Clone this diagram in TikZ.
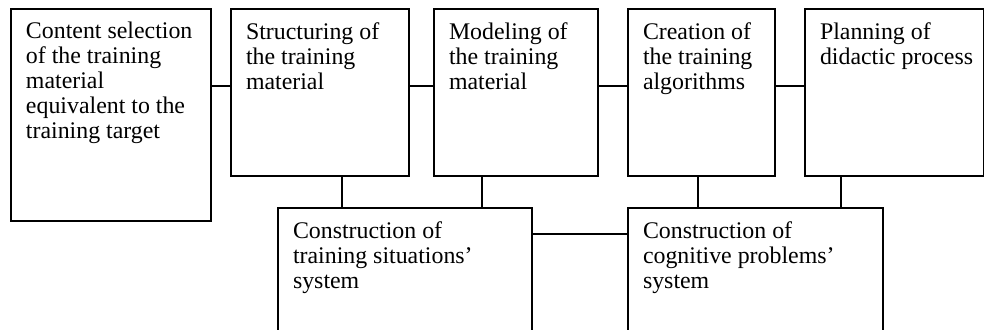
\documentclass[tikz,border=0pt]{standalone}
\usepackage{fontspec}
\setmainfont{Liberation Serif}

\tikzset{
  stage/.style={draw, line width=1.5pt, anchor=north west, inner xsep=11.25pt, inner ysep=10pt,
    font=\fontsize{17.9}{18.75}\selectfont},
  link/.style={line width=1.5pt}
}
\newcommand{\stagetext}[3]{\parbox[t][#2][t]{#1}{\raggedright #3}}

\begin{document}
\begin{tikzpicture}[x=0.75pt,y=-0.75pt]
\useasboundingbox (0,0) rectangle (984,329);
\clip (0,0) rectangle (984,329);
% upper row
\node[stage] (sel) at (10,8) {\stagetext{127.5pt}{139pt}{Content selection\\of the training\\material\\equivalent to the\\training target}};
\node[stage] (str) at (230,8) {\stagetext{111pt}{105.25pt}{Structuring of\\the training\\material}};
\node[stage] (mod) at (433,8) {\stagetext{100.5pt}{105.25pt}{Modeling of\\the training\\material}};
\node[stage] (cre) at (627,8) {\stagetext{87.75pt}{105.25pt}{Creation of\\the training\\algorithms}};
\node[stage] (pla) at (804,8) {\stagetext{111.75pt}{105.25pt}{Planning of\\\mbox{didactic process}}};
% lower row
\node[stage] (sit) at (277,207) {\stagetext{168pt}{100pt}{Construction of\\training situations'\\system}};
\node[stage] (cog) at (627,207) {\stagetext{168.75pt}{100pt}{Construction of\\cognitive problems'\\system}};
% links
\coordinate (lvl) at (0,86);
\draw[link] (sel.east |- lvl) -- (str.west |- lvl);
\draw[link] (str.east |- lvl) -- (mod.west |- lvl);
\draw[link] (mod.east |- lvl) -- (cre.west |- lvl);
\draw[link] (cre.east |- lvl) -- (pla.west |- lvl);
\path (str.south west) ++(112,0) coordinate (drop1);
\path (mod.south west) ++(49,0) coordinate (drop2);
\path (cre.south west) ++(71,0) coordinate (drop3);
\path (pla.south west) ++(37,0) coordinate (drop4);
\draw[link] (drop1) -- (drop1 |- sit.north);
\draw[link] (drop2) -- (drop2 |- sit.north);
\draw[link] (drop3) -- (drop3 |- cog.north);
\draw[link] (drop4) -- (drop4 |- cog.north);
\path (sit.north east) ++(0,27) coordinate (join);
\draw[link] (join) -- (join -| cog.west);
\end{tikzpicture}
\end{document}
